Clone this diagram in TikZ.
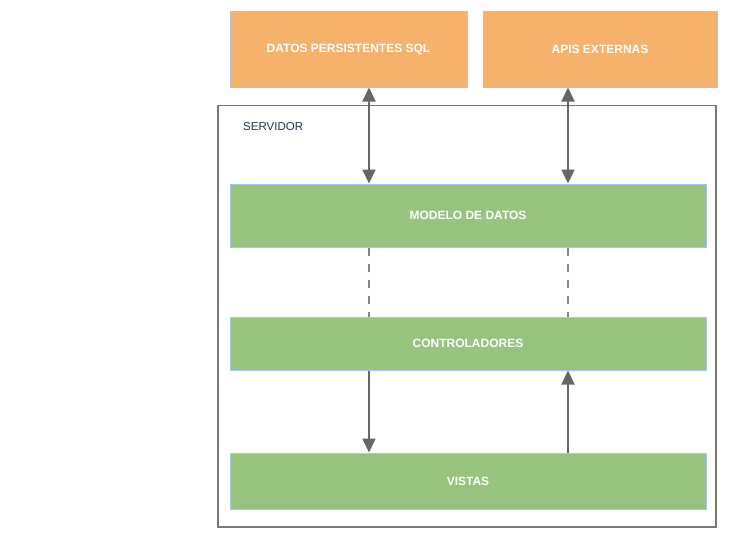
\documentclass[tikz,border=0pt]{standalone}
\usepackage{fontspec}
\setmainfont{Liberation Sans}
\usetikzlibrary{arrows.meta}

\definecolor{naranja}{HTML}{F6B16D}
\definecolor{verde}{HTML}{96C47F}
\definecolor{borde}{HTML}{A9C4EE}
\definecolor{flecha}{HTML}{666666}
\definecolor{marco}{HTML}{777777}
\definecolor{titulo}{HTML}{1F3355}

\tikzset{
	orangebox/.style = {draw=borde, line width=1pt, fill=naranja, text=white,
		font=\fontsize{12}{14}\selectfont\bfseries, inner sep=0pt},
	greenbox/.style = {draw=borde, line width=1pt, fill=verde, text=white,
		font=\fontsize{12}{14}\selectfont\bfseries, inner sep=0pt,
		minimum width=476pt},
	link/.style = {draw=flecha, line width=2pt},
	tip/.style = {-{Triangle[length=14pt,width=13pt]}},
	bothtips/.style = {{Triangle[length=14pt,width=13pt]}-{Triangle[length=14pt,width=13pt]}},
	dashlink/.style = {draw=flecha!80, line width=2pt, dash pattern=on 8pt off 8pt}
}

\begin{document}
\begin{tikzpicture}[x=1pt, y=-1pt]
	\useasboundingbox (0,0) rectangle (740,547);
	% servidor
	\draw[marco, line width=1.5pt] (218,105.5) rectangle (716,527);
	\node[anchor=west, text=titulo, font=\fontsize{11.5}{13}\selectfont, inner sep=0pt] (servidor) at (243,127) {SERVIDOR};
	% cajas externas
	\node[orangebox, minimum width=237pt, minimum height=76pt] (sql) at (348.5,49) {DATOS PERSISTENTES SQL};
	\node[orangebox, minimum width=234pt, minimum height=76pt] (apis) at (600,49) {APIS EXTERNAS};
	% capas
	\node[greenbox, minimum height=63pt] (modelo) at (468,215.5) {MODELO DE DATOS};
	\node[greenbox, minimum height=53pt] (control) at (468,343.5) {CONTROLADORES};
	\node[greenbox, minimum height=56pt] (vistas) at (468,481) {VISTAS};
	\coordinate (izq) at (369,0);
	\coordinate (der) at (568,0);
	% flechas
	\draw[link, bothtips] (sql.south -| izq) -- (modelo.north -| izq);
	\draw[link, bothtips] (apis.south -| der) -- (modelo.north -| der);
	\draw[dashlink] (modelo.south -| izq) -- (control.north -| izq);
	\draw[dashlink] (modelo.south -| der) -- (control.north -| der);
	\draw[link, tip] (control.south -| izq) -- (vistas.north -| izq);
	\draw[link, tip] (vistas.north -| der) -- (control.south -| der);
\end{tikzpicture}
\end{document}
